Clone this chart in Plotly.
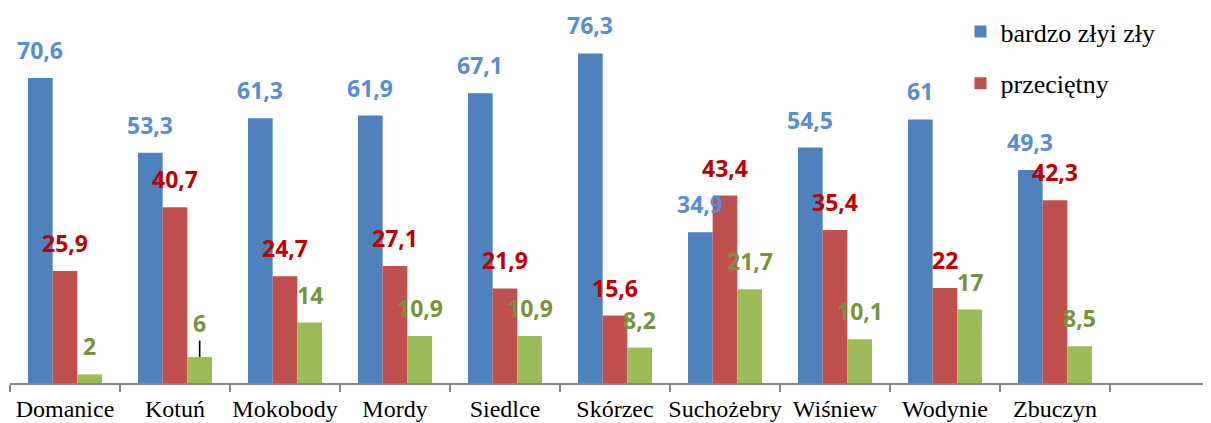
import plotly.graph_objects as go

categories = ["Domanice", "Kotuń", "Mokobody", "Mordy", "Siedlce", "Skórzec",
              "Suchożebry", "Wiśniew", "Wodynie", "Zbuczyn"]
bardzo_zly = [70.6, 53.3, 61.3, 61.9, 67.1, 76.3, 34.9, 54.5, 61, 49.3]
przecietny = [25.9, 40.7, 24.7, 27.1, 21.9, 15.6, 43.4, 35.4, 22, 42.3]
dobry = [2, 6, 14, 10.9, 10.9, 8.2, 21.7, 10.1, 17, 8.5]

series_names = ["bardzo złyi zły", "przeciętny", "dobry"]
series_values = [bardzo_zly, przecietny, dobry]
bar_colors = ["#4F81BD", "#C0504D", "#9BBB59"]
label_colors = ["#558ED5", "#C00000", "#77933C"]
show_legend = [True, True, False]

# page body has an 8px margin; figure occupies the rest of the window
W, H = 1203, 415
ML, MR, MT, MB = 2, 0, 0, 40
px_per_cat = 110.0
bargap = 0.327
plot_w = W - ML - MR
plot_h = H - MT - MB
x_range = [-0.5, -0.5 + plot_w / px_per_cat]
px_per_unit = 4.32
y_max = plot_h / px_per_unit

fig = go.Figure()
for i, (name, vals) in enumerate(zip(series_names, series_values)):
    fig.add_trace(go.Bar(
        x=categories, y=vals, name=name,
        marker=dict(color=bar_colors[i], line=dict(width=0)),
        showlegend=show_legend[i], legendgroup=name,
    ))

bar_w = (1 - bargap) / 3 * px_per_cat
annotations = []
for i, vals in enumerate(series_values):
    for c, v in zip(categories, vals):
        txt = str(v).replace(".", ",")
        if txt.endswith(",0"):
            txt = txt[:-2]
        font = dict(family="Open Sans", size=23, color=label_colors[i])
        if i == 2 and c == "Kotuń":
            annotations.append(dict(
                x=c, y=v, xref="x", yref="y", text="<b>%s</b>" % txt,
                showarrow=True, arrowhead=0, arrowwidth=1.6, arrowcolor="#000000",
                ax=0, ay=-34, standoff=0, xshift=(i - 1) * bar_w, font=font,
            ))
        else:
            annotations.append(dict(
                x=c, y=v, xref="x", yref="y", text="<b>%s</b>" % txt,
                showarrow=False, yanchor="bottom", xanchor="center",
                xshift=(i - 1) * bar_w, yshift=10, font=font,
            ))

fig.update_layout(
    width=W, height=H,
    margin=dict(l=ML, r=MR, t=MT, b=MB, pad=0),
    paper_bgcolor="white", plot_bgcolor="white",
    barmode="group", bargap=bargap, bargroupgap=0,
    annotations=annotations,
    xaxis=dict(
        range=x_range, showgrid=False, zeroline=False, automargin=False,
        showline=True, linecolor="#868686", linewidth=1.5,
        ticks="outside", tickson="boundaries", ticklen=7, tickwidth=1.5,
        tickcolor="#868686", tickangle=0, ticklabelstandoff=3,
        tickfont=dict(family="Liberation Serif", size=24, color="#000000"),
    ),
    yaxis=dict(range=[0, y_max], visible=False, showgrid=False, zeroline=False),
    legend=dict(
        x=0.7914, y=1.0, xanchor="left", yanchor="top",
        font=dict(family="Liberation Serif", size=26, color="#000000"),
        bgcolor="rgba(0,0,0,0)", traceorder="grouped", tracegroupgap=15,
    ),
    showlegend=True,
)

fig.write_html("out.html")
